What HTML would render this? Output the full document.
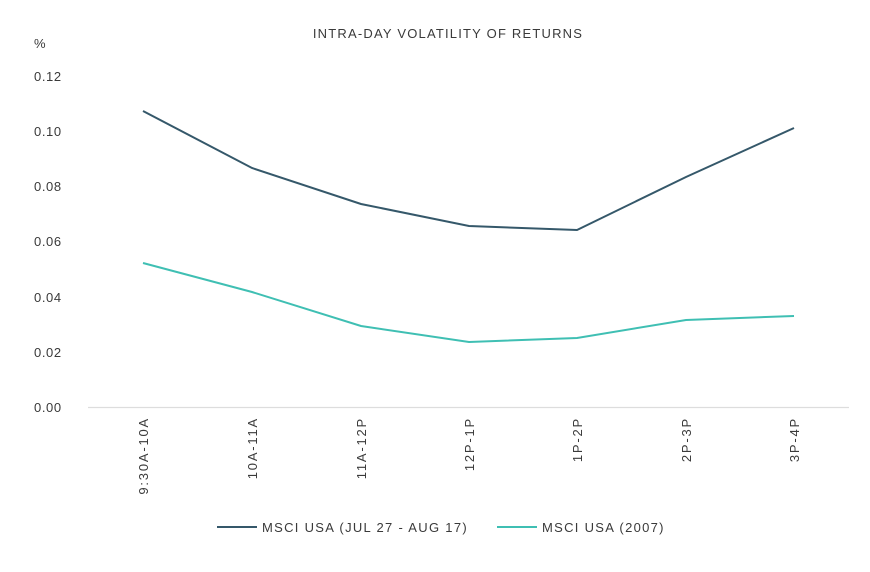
<!DOCTYPE html>
<html><head><style>
body{margin:0;background:#fff}
svg text{font-family:"Liberation Sans",sans-serif;fill:#3a3a3a;font-size:13px}
</style></head><body>
<svg width="870" height="567" xmlns="http://www.w3.org/2000/svg">
<text x="448" y="38" text-anchor="middle" font-size="12.5" letter-spacing="1.2">INTRA-DAY VOLATILITY OF RETURNS</text>
<text x="34" y="48">%</text>
<g text-anchor="start" letter-spacing="0.6">
<text x="34" y="81">0.12</text>
<text x="34" y="136">0.10</text>
<text x="34" y="191">0.08</text>
<text x="34" y="246">0.06</text>
<text x="34" y="302">0.04</text>
<text x="34" y="357">0.02</text>
<text x="34" y="412">0.00</text>
</g>
<line x1="88" y1="407.5" x2="849" y2="407.5" stroke="#ddd" stroke-width="1.2"/>
<g text-anchor="end" letter-spacing="1.8">
<text transform="translate(148,417) rotate(-90)">9:30A-10A</text>
<text transform="translate(257,417) rotate(-90)">10A-11A</text>
<text transform="translate(366,417) rotate(-90)">11A-12P</text>
<text transform="translate(474,417) rotate(-90)">12P-1P</text>
<text transform="translate(582,417) rotate(-90)">1P-2P</text>
<text transform="translate(691,417) rotate(-90)">2P-3P</text>
<text transform="translate(799,417) rotate(-90)">3P-4P</text>
</g>
<polyline fill="none" stroke="#35586a" stroke-width="2" points="143,111 252,168 361,204 469,226 577,230 686,177 794,128"/>
<polyline fill="none" stroke="#3fbfb3" stroke-width="2" points="143,263 252,292 361,326 469,342 577,338 686,320 794,316"/>
<line x1="217" y1="527" x2="257" y2="527" stroke="#35586a" stroke-width="2"/>
<text x="262" y="532" letter-spacing="1.3">MSCI USA (JUL 27 - AUG 17)</text>
<line x1="497" y1="527" x2="537" y2="527" stroke="#3fbfb3" stroke-width="2"/>
<text x="542" y="532" letter-spacing="1.3">MSCI USA (2007)</text>
</svg>
</body></html>
